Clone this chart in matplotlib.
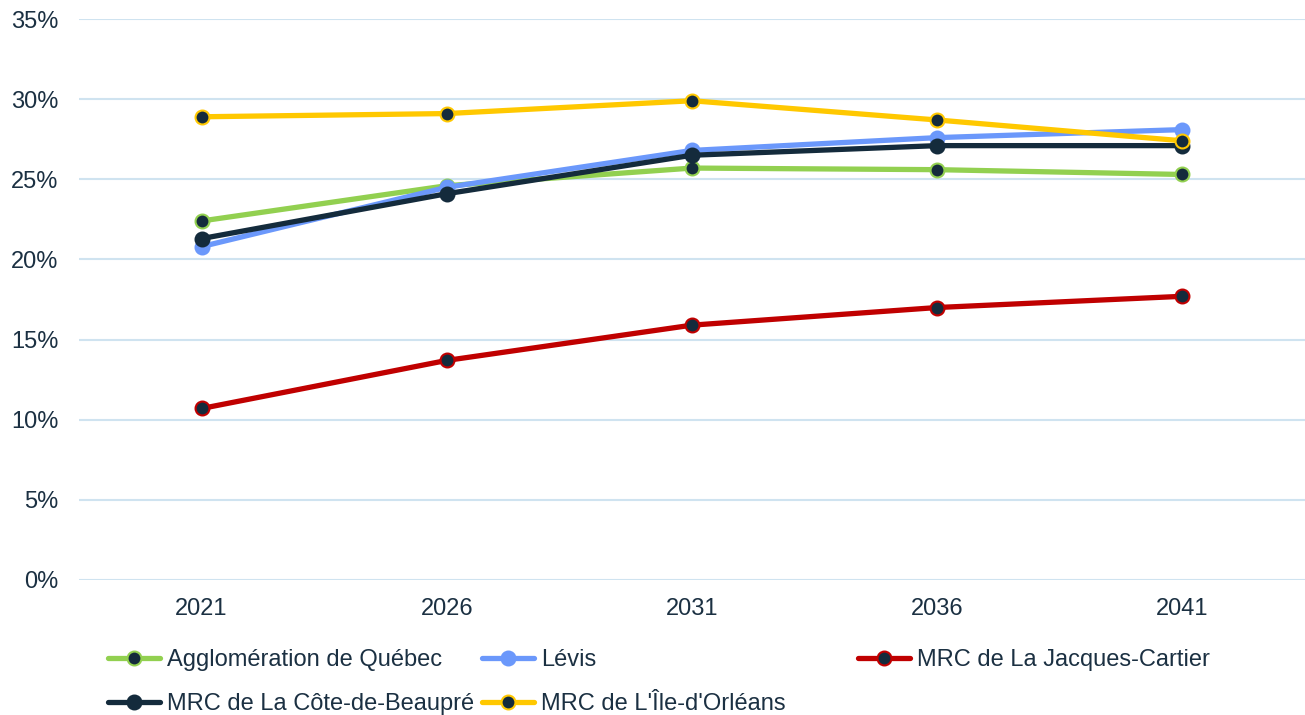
import matplotlib
matplotlib.use("Agg")
import matplotlib.pyplot as plt

plt.rcParams['font.family'] = ['Liberation Sans', 'DejaVu Sans']

years = ['2021', '2026', '2031', '2036', '2041']

agglo_quebec = [22.4, 24.6, 25.7, 25.6, 25.3]
levis = [20.8, 24.5, 26.8, 27.6, 28.1]
jacques_cartier = [10.7, 13.7, 15.9, 17.0, 17.7]
cote_beaupre = [21.3, 24.1, 26.5, 27.1, 27.1]
ile_orleans = [28.9, 29.1, 29.9, 28.7, 27.4]

yticks = [0, 5, 10, 15, 20, 25, 30, 35]

text_col = '#1b3042'
navy = '#142b3c'

W, H = 1305, 715
fig = plt.figure(figsize=(W / 100, H / 100), dpi=100)
ax = fig.add_axes([79 / W, (H - 580) / H, (1305 - 79) / W, (580 - 19) / H])

x = range(len(years))
series = [
    ("Agglomération de Québec", agglo_quebec, '#92d050', navy),
    ("Lévis", levis, '#6b98fb', '#6b98fb'),
    ("MRC de La Jacques-Cartier", jacques_cartier, '#c00000', navy),
    ("MRC de La Côte-de-Beaupré", cote_beaupre, navy, navy),
    ("MRC de L'Île-d'Orléans", ile_orleans, '#ffc800', navy),
]

handles = {}
for name, vals, col, fill in series:
    h, = ax.plot(x, vals, color=col, lw=3.8, marker='o', markersize=10,
                 markerfacecolor=fill, markeredgecolor=col, markeredgewidth=1.5,
                 label=name, solid_capstyle='round')
    handles[name] = h

ax.set_xlim(-0.5, 4.5)
ax.set_ylim(0, 35)
ax.set_xticks(list(x))
ax.set_xticklabels(years)
ax.set_yticks(yticks)
ax.set_yticklabels([f"{t}%" for t in yticks])
ax.tick_params(length=0, labelsize=17, colors=text_col)
ax.tick_params(axis='y', pad=15)
ax.tick_params(axis='x', pad=13)
ax.grid(axis='y', color='#cfe3f0', lw=1.5)
ax.set_axisbelow(True)
for s in ax.spines.values():
    s.set_visible(False)

# legend laid out as three separate columns
cols = [
    (108, ["Agglomération de Québec", "MRC de La Côte-de-Beaupré"]),
    (482, ["Lévis", "MRC de L'Île-d'Orléans"]),
    (858, ["MRC de La Jacques-Cartier"]),
]
for xpx, names in cols:
    leg = fig.legend([handles[n] for n in names], names, loc='upper left',
                     bbox_to_anchor=(xpx / W, 1 - 649 / H), frameon=False,
                     fontsize=17, borderpad=0, borderaxespad=0,
                     handlelength=2.2, handletextpad=0.3, labelspacing=0.95,
                     labelcolor=text_col)

fig.savefig("out.png", dpi=100, facecolor='white')
